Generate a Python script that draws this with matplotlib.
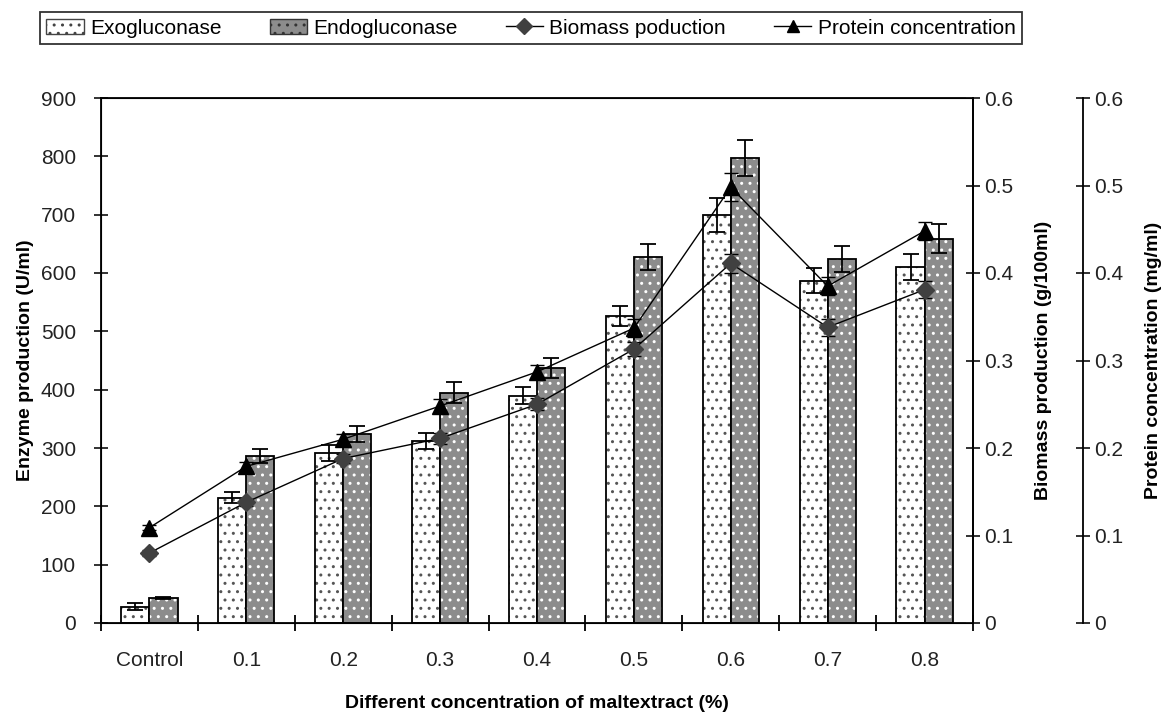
import numpy as np
import matplotlib
matplotlib.use("Agg")
import matplotlib.pyplot as plt
from matplotlib.lines import Line2D
from matplotlib.patches import Patch

plt.rcParams['font.family'] = ['Liberation Sans', 'DejaVu Sans']
plt.rcParams['hatch.linewidth'] = 1.0

# dados
categorias = ['Control', '0.1', '0.2', '0.3', '0.4', '0.5', '0.6', '0.7', '0.8']
exo = [28, 215, 292, 312, 390, 527, 699, 587, 610]
exo_err = [6, 9, 14, 14, 14, 17, 29, 22, 22]
endo = [43, 286, 324, 395, 437, 627, 797, 624, 659]
endo_err = [1, 12, 14, 18, 17, 22, 31, 23, 25]
biomassa = [0.080, 0.138, 0.188, 0.211, 0.250, 0.313, 0.411, 0.338, 0.381]
biomassa_err = [0.003, 0.004, 0.005, 0.006, 0.007, 0.008, 0.011, 0.010, 0.010]
proteina = [0.109, 0.179, 0.210, 0.248, 0.287, 0.337, 0.498, 0.385, 0.448]
proteina_err = [0.003, 0.005, 0.006, 0.008, 0.008, 0.010, 0.016, 0.010, 0.010]

x = np.arange(len(categorias))
w = 0.29

fig = plt.figure(figsize=(11.7, 7.15), dpi=100)
ax = fig.add_axes([101/1170, 1 - 623/715, 872/1170, 525/715])

# barras: primeiro o padrao, depois o contorno
ax.bar(x - w/2, exo, w, color='white', hatch='..', edgecolor='#555555', linewidth=0)
ax.bar(x - w/2, exo, w, color='none', edgecolor='black', linewidth=1.3)
ax.bar(x + w/2, endo, w, color='#8c8c8c', hatch='..', edgecolor='white', linewidth=0)
ax.bar(x + w/2, endo, w, color='none', edgecolor='black', linewidth=1.3)
ax.errorbar(x - w/2, exo, yerr=exo_err, fmt='none', ecolor='black', elinewidth=1.3, capsize=6, capthick=1.3)
ax.errorbar(x + w/2, endo, yerr=endo_err, fmt='none', ecolor='black', elinewidth=1.3, capsize=6, capthick=1.3)

ax.set_xlim(-0.5, len(categorias) - 0.5)
ax.set_ylim(0, 900)
ax.set_yticks(range(0, 901, 100))
ax.set_xticks(x)
ax.set_xticklabels(categorias)
ax.set_xticks(np.arange(-0.5, len(categorias), 1), minor=True)
ax.tick_params(axis='x', which='major', length=0, pad=20, labelsize=15, colors='#222222')
ax.tick_params(axis='x', which='minor', length=12, width=1.3, direction='inout')
ax.tick_params(axis='y', length=10, width=1.3, direction='inout', labelsize=15, pad=13, colors='#222222')
for s in ax.spines.values():
    s.set_linewidth(1.3)
ax.set_ylabel('Enzyme production (U/ml)', fontsize=14, fontweight='bold', labelpad=5)
ax.set_xlabel('Different concentration of maltextract (%)', fontsize=14, fontweight='bold', labelpad=18)

# eixo da biomassa
ax2 = ax.twinx()
ax2.set_ylim(0, 0.6)
ax2.set_yticks(np.arange(0, 0.61, 0.1))
ax2.set_yticklabels(['0', '0.1', '0.2', '0.3', '0.4', '0.5', '0.6'])
ax2.tick_params(axis='y', length=10, width=1.3, direction='inout', labelsize=15, pad=3, colors='#222222')
ax2.spines['right'].set_linewidth(1.3)
ax2.set_ylabel('Biomass production (g/100ml)', fontsize=14, fontweight='bold', labelpad=16)
ax2.errorbar(x, biomassa, yerr=biomassa_err, color='black', lw=1, marker='D', ms=9,
             mfc='#404040', mec='#404040', ecolor='black', elinewidth=1.2, capsize=5, zorder=4)

# eixo da proteina
ax3 = ax.twinx()
ax3.spines['right'].set_position(('axes', 982/872))
ax3.spines['right'].set_linewidth(1.3)
for k in ['top', 'bottom', 'left']:
    ax3.spines[k].set_visible(False)
ax3.set_ylim(0, 0.6)
ax3.set_yticks(np.arange(0, 0.61, 0.1))
ax3.set_yticklabels(['0', '0.1', '0.2', '0.3', '0.4', '0.5', '0.6'])
ax3.tick_params(axis='y', length=10, width=1.3, direction='inout', labelsize=15, pad=3, colors='#222222')
ax3.set_ylabel('Protein concentration (mg/ml)', fontsize=14, fontweight='bold', labelpad=16)
ax3.errorbar(x, proteina, yerr=proteina_err, color='black', lw=1, marker='^', ms=11,
             mfc='black', mec='black', ecolor='black', elinewidth=1.2, capsize=5, zorder=4)

handles = [
    Patch(facecolor='white', hatch='..', edgecolor='#444444'),
    Patch(facecolor='#8c8c8c', hatch='..', edgecolor='#333333'),
    Line2D([], [], color='black', lw=1, marker='D', ms=8, mfc='#404040', mec='#404040'),
    Line2D([], [], color='black', lw=1, marker='^', ms=9, mfc='black', mec='black'),
]
labels = ['Exogluconase', 'Endogluconase', 'Biomass poduction', 'Protein concentration']
leg = fig.legend(handles, labels, loc='center', bbox_to_anchor=(531/1170, 1 - 28/715), ncol=4,
                 fontsize=15, frameon=True, fancybox=False, edgecolor='black',
                 handlelength=1.8, handletextpad=0.3, columnspacing=2.3, borderpad=0.3)
leg.get_frame().set_linewidth(1.3)

fig.savefig('out.png', dpi=100)
